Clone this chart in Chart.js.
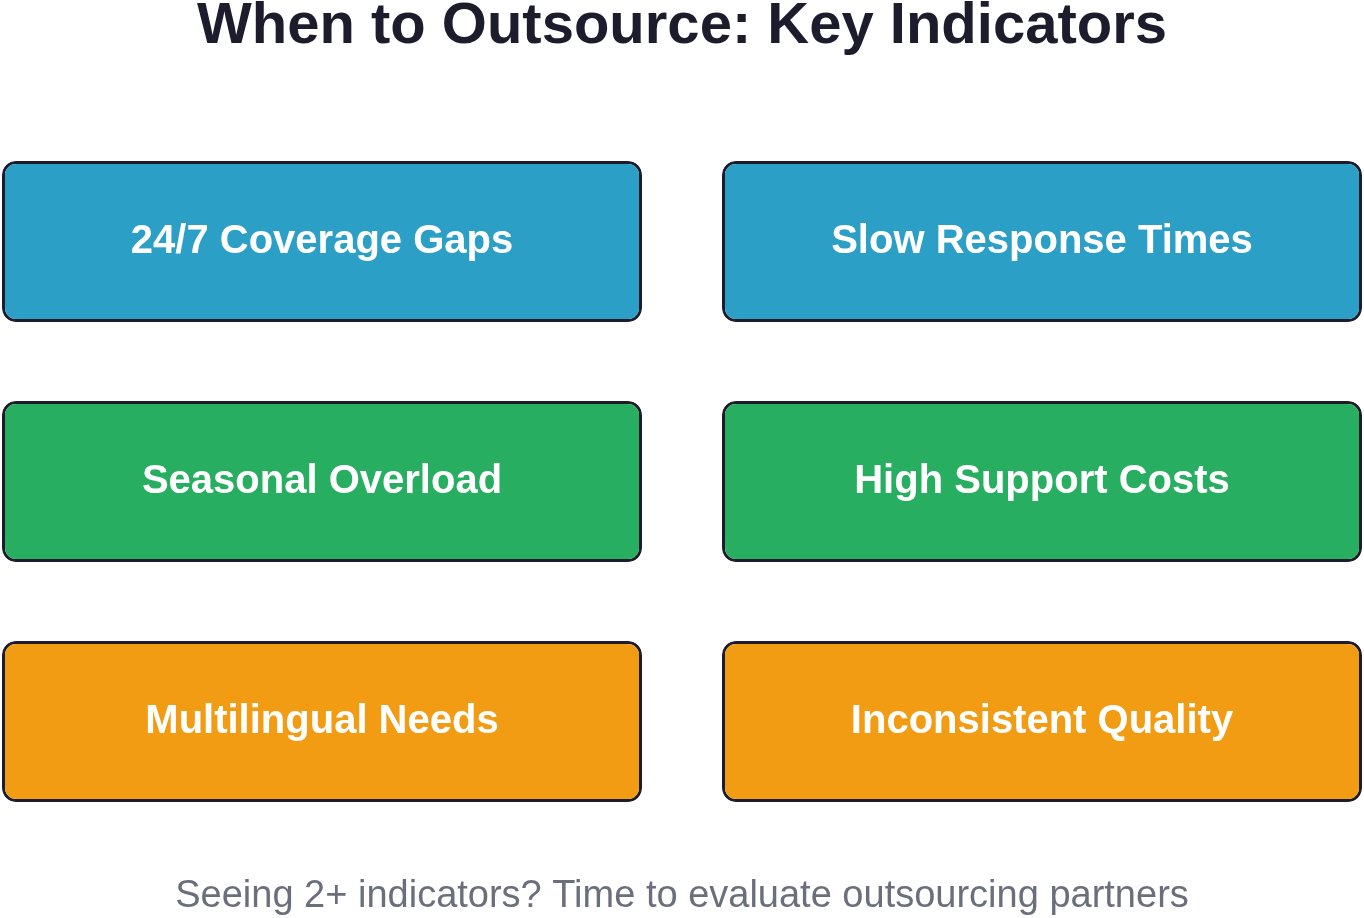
<!DOCTYPE html>
<html>
<head>
<meta charset="utf-8">
<script src="https://cdn.jsdelivr.net/npm/chart.js@4"></script>
<style>
  html, body { margin: 0; padding: 0; background: #ffffff; }
  #wrap { width: 1364px; height: 918px; position: relative; }
</style>
</head>
<body>
<div id="wrap"><canvas id="chart"></canvas></div>
<script>
// rows of the grid, top to bottom
const rows = ['Row 1', 'Row 2', 'Row 3'];
// left and right column labels
const leftLabels = ['24/7 Coverage Gaps', 'Seasonal Overload', 'Multilingual Needs'];
const rightLabels = ['Slow Response Times', 'High Support Costs', 'Inconsistent Quality'];
// horizontal extent of each column (same on every row)
const leftSpan = [2, 642];
const rightSpan = [722, 1362];
const rowColors = ['#2b9fc5', '#28ae60', '#f29c14'];

const titleText = 'When to Outsource: Key Indicators';
const footerText = 'Seeing 2+ indicators? Time to evaluate outsourcing partners';

const FONT = '"Liberation Sans", Arial, Helvetica, sans-serif';

const labelPlugin = {
  id: 'labels',
  afterDatasetsDraw(chart) {
    const ctx = chart.ctx;
    ctx.save();
    ctx.fillStyle = '#ffffff';
    ctx.font = 'bold 40px ' + FONT;
    ctx.textAlign = 'center';
    ctx.textBaseline = 'middle';
    chart.data.datasets.forEach((ds, di) => {
      chart.getDatasetMeta(di).data.forEach((el, i) => {
        const p = el.getCenterPoint();
        ctx.fillText(ds.texts[i], p.x, p.y);
      });
    });
    ctx.fillStyle = '#1c1c2c';
    ctx.font = 'bold 58px ' + FONT;
    ctx.fillText(titleText, chart.width / 2, 27);
    ctx.fillStyle = '#6b6f7c';
    ctx.font = '38px ' + FONT;
    ctx.fillText(footerText, chart.width / 2, 897);
    ctx.restore();
  }
};

const common = {
  backgroundColor: rowColors,
  borderColor: '#1c1c2c',
  borderWidth: 3,
  borderRadius: 14,
  borderSkipped: false,
  barPercentage: 1,
  categoryPercentage: 161 / 240
};

new Chart(document.getElementById('chart'), {
  type: 'bar',
  data: {
    labels: rows,
    datasets: [
      Object.assign({ label: 'Left', data: rows.map(() => leftSpan), texts: leftLabels }, common),
      Object.assign({ label: 'Right', data: rows.map(() => rightSpan), texts: rightLabels }, common)
    ]
  },
  options: {
    indexAxis: 'y',
    responsive: true,
    maintainAspectRatio: false,
    animation: false,
    layout: { padding: { top: 121.5, bottom: 76.5, left: 0, right: 0 } },
    datasets: { bar: { grouped: false } },
    scales: {
      x: { display: false, min: 0, max: 1364 },
      y: { display: false }
    },
    plugins: {
      legend: { display: false },
      tooltip: { enabled: false }
    }
  },
  plugins: [labelPlugin]
});
</script>
</body>
</html>
